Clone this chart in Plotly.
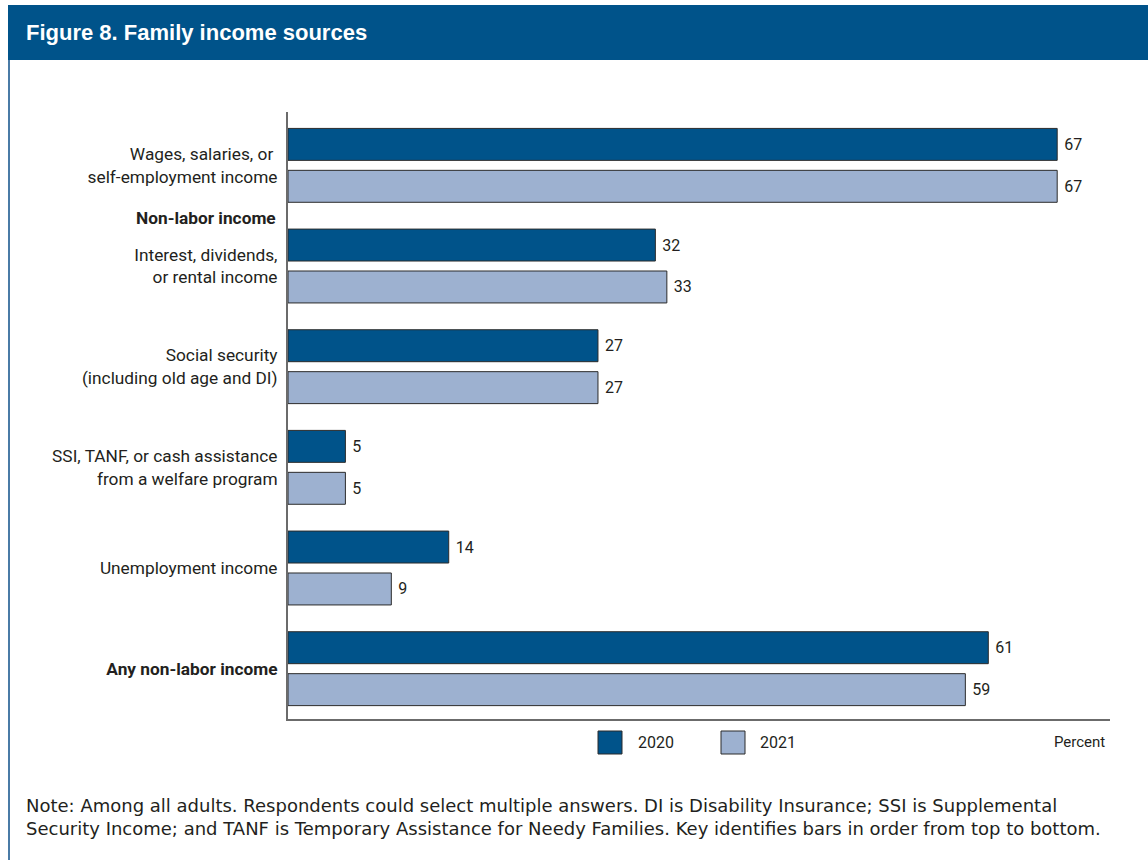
import plotly.graph_objects as go

categories = [
    "Wages, salaries, or <br>self-employment income",
    "Interest, dividends,<br>or rental income",
    "Social security<br>(including old age and DI)",
    "SSI, TANF, or cash assistance<br>from a welfare program",
    "Unemployment income",
    "<b>Any non-labor income</b>",
]
values_2020 = [67, 32, 27, 5, 14, 61]
values_2021 = [67, 33, 27, 5, 9, 59]
series_names = ["2020", "2021"]
title_text = "Figure 8. Family income sources"
section_label = "Non-labor income"
note_text = ("Note: Among all adults. Respondents could select multiple answers. DI is Disability Insurance; SSI is Supplemental<br>"
             "Security Income; and TANF is Temporary Assistance for Needy Families. Key identifies bars in order from top to bottom.")

DARK = "#00538a"
LIGHT = "#9db1d0"
TXT = "#231f20"
W, H = 1148, 860
L, R, T, B = 288, 1110, 112, 719

def px(x):
    return (x - L) / (R - L)

def py(y):
    return (B - y) / (B - T)

fig = go.Figure()
for name, vals, col in [(series_names[0], values_2020, DARK), (series_names[1], values_2021, LIGHT)]:
    fig.add_trace(go.Bar(
        y=categories, x=vals, orientation="h", name=name,
        marker=dict(color=col, line=dict(color="#2b2b2b", width=1)),
        text=[f" {v}" for v in vals], textposition="outside",
        textfont=dict(family="Roboto", size=16, color=TXT),
        cliponaxis=False, showlegend=False,
    ))

shapes = [
    dict(type="rect", xref="paper", yref="paper", x0=px(8), x1=px(1150), y0=py(5), y1=py(60),
         fillcolor="#00538a", line=dict(width=0), layer="below"),
    dict(type="line", xref="paper", yref="paper", x0=px(9), x1=px(9), y0=py(60), y1=py(862),
         line=dict(color="#4a7ba6", width=2)),
    dict(type="rect", xref="paper", yref="paper", x0=px(598), x1=px(622), y0=py(731), y1=py(754),
         fillcolor=DARK, line=dict(color="#2b2b2b", width=1)),
    dict(type="rect", xref="paper", yref="paper", x0=px(721), x1=px(745), y0=py(731), y1=py(754),
         fillcolor=LIGHT, line=dict(color="#2b2b2b", width=1)),
]

annotations = [
    dict(text=f"<b>{title_text}</b>", xref="paper", yref="paper", x=px(24), y=py(32),
         xanchor="left", yanchor="middle", showarrow=False,
         font=dict(family="Liberation Sans", size=22, color="white")),
    dict(text=f"<b>{section_label}</b>", xref="paper", yref="paper", x=px(278), y=py(218),
         xanchor="right", yanchor="middle", showarrow=False,
         font=dict(family="Roboto", size=17.3, color=TXT)),
    dict(text=series_names[0], xref="paper", yref="paper", x=px(636), y=py(742),
         xanchor="left", yanchor="middle", showarrow=False,
         font=dict(family="Roboto", size=16, color=TXT)),
    dict(text=series_names[1], xref="paper", yref="paper", x=px(758), y=py(742),
         xanchor="left", yanchor="middle", showarrow=False,
         font=dict(family="Roboto", size=16, color=TXT)),
    dict(text="Percent", xref="paper", yref="paper", x=px(1107), y=py(742),
         xanchor="right", yanchor="middle", showarrow=False,
         font=dict(family="Roboto", size=15, color=TXT)),
    dict(text=note_text, xref="paper", yref="paper", x=px(24), y=py(817),
         xanchor="left", yanchor="middle", align="left", showarrow=False,
         font=dict(family="DejaVu Sans", size=18, color=TXT)),
]

fig.update_layout(
    width=W, height=H,
    margin=dict(l=L, r=W - R, t=T, b=H - B, pad=0),
    paper_bgcolor="white", plot_bgcolor="white",
    barmode="group", bargap=0.167, bargroupgap=0.238,
    shapes=shapes, annotations=annotations,
    xaxis=dict(range=[0, 71.6], showgrid=False, zeroline=False, showticklabels=False,
               ticks="", showline=True, linecolor="#6b6b6b", linewidth=2, fixedrange=True),
    yaxis=dict(range=[5.5, -0.53], showgrid=False, zeroline=False, ticks="",
               showline=True, linecolor="#6b6b6b", linewidth=2, ticklabelstandoff=5,
               tickfont=dict(family="Roboto", size=17.3, color=TXT), fixedrange=True),
    font=dict(family="Roboto", color=TXT),
)

fig.write_html("out.html", config={"displayModeBar": False},
               post_script="document.body.style.margin='0';document.body.style.overflow='hidden';")
